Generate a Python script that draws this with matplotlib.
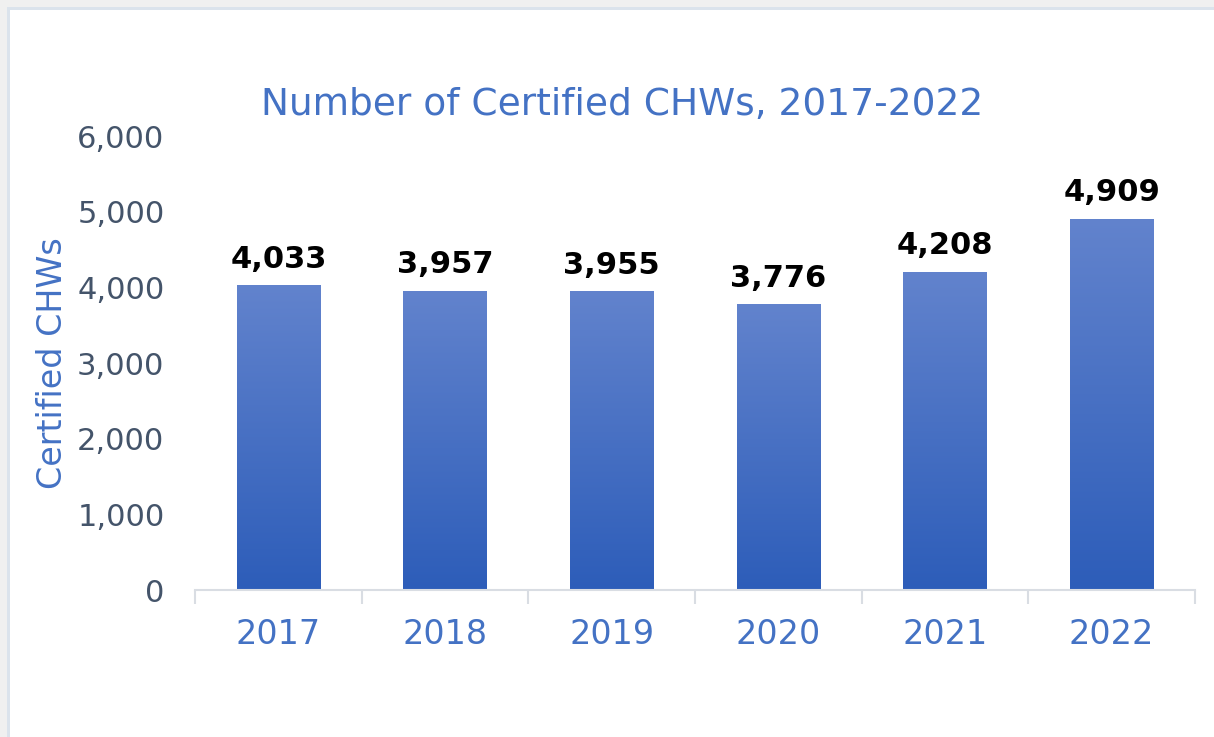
import numpy as np
import matplotlib.pyplot as plt
from matplotlib.patches import Rectangle
from matplotlib.ticker import FuncFormatter, FixedLocator
from matplotlib.colors import LinearSegmentedColormap

# Data
years = ['2017', '2018', '2019', '2020', '2021', '2022']
certified = [4033, 3957, 3955, 3776, 4208, 4909]

blue_text = '#4472C4'
tick_gray = '#44546A'

fig = plt.figure(figsize=(12.14, 7.37), dpi=100)
fig.patch.set_facecolor('white')

# outer frame: grey margin on top/left plus thin border line
fig.patches.append(Rectangle((0, 1 - 7 / 737), 1, 7 / 737, transform=fig.transFigure,
                             facecolor='#f0f0f0', edgecolor='none', zorder=0))
fig.patches.append(Rectangle((0, 0), 7 / 1214, 1, transform=fig.transFigure,
                             facecolor='#f0f0f0', edgecolor='none', zorder=0))
fig.patches.append(Rectangle((7 / 1214, 1 - 10 / 737), 1, 3 / 737, transform=fig.transFigure,
                             facecolor='#dbe3ec', edgecolor='none', zorder=0))
fig.patches.append(Rectangle((7 / 1214, 0), 3 / 1214, 1 - 7 / 737, transform=fig.transFigure,
                             facecolor='#dbe3ec', edgecolor='none', zorder=0))

ax = fig.add_axes([195 / 1214, 1 - 590 / 737, 1000 / 1214, 454 / 737])

x = np.arange(len(years))
bars = ax.bar(x, certified, width=0.5, color='none', edgecolor='none')

# vertical gradient fill for each bar
cmap = LinearSegmentedColormap.from_list('bluegrad', ['#2d5db9', '#6283cd'])
grad = np.linspace(0, 1, 256).reshape(-1, 1)
for b in bars:
    bx, by = b.get_x(), b.get_y()
    w, h = b.get_width(), b.get_height()
    im = ax.imshow(grad, cmap=cmap, origin='lower', aspect='auto',
                   extent=[bx, bx + w, by, by + h], zorder=2)
    im.set_clip_path(b)

for xi, v in zip(x, certified):
    ax.annotate(f'{v:,}', (xi, v), xytext=(0, 8), textcoords='offset points',
                ha='center', va='bottom', fontsize=22, fontweight='bold', color='black')

ax.set_xlim(-0.5, len(years) - 0.5)
ax.set_ylim(0, 6000)
ax.set_yticks(range(0, 6001, 1000))
ax.yaxis.set_major_formatter(FuncFormatter(lambda v, p: f'{int(v):,}'))
ax.tick_params(axis='y', length=0, pad=22, labelsize=22, labelcolor=tick_gray)

ax.set_xticks(x)
ax.set_xticklabels(years)
ax.tick_params(axis='x', which='major', length=0, pad=20, labelsize=24, labelcolor=blue_text)
ax.xaxis.set_minor_locator(FixedLocator(np.arange(-0.5, len(years), 1.0)))
ax.tick_params(axis='x', which='minor', length=10, width=1.5, color='#d9dde3', direction='out')

for side in ['top', 'right', 'left']:
    ax.spines[side].set_visible(False)
ax.spines['bottom'].set_color('#d9dde3')
ax.spines['bottom'].set_linewidth(1.5)

ax.set_ylabel('Certified CHWs', fontsize=24, color=blue_text, labelpad=6)
fig.text(622 / 1214, 1 - 105 / 737, 'Number of Certified CHWs, 2017-2022',
         ha='center', va='center', fontsize=27, color=blue_text)

fig.savefig('out.png', dpi=100)
